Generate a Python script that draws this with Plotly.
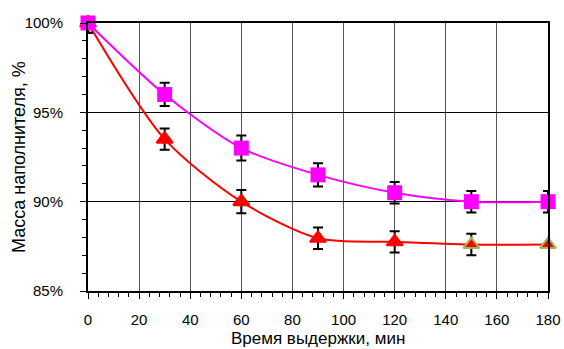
import plotly.graph_objects as go

time_min = [0, 30, 60, 90, 120, 150, 180]
mass_magenta = [100, 96.0, 93.0, 91.5, 90.5, 90.0, 90.0]
err_magenta_up = [0.0, 0.65, 0.7, 0.65, 0.6, 0.6, 0.6]
err_magenta_down = [0.55, 0.65, 0.7, 0.65, 0.6, 0.6, 0.6]
mass_red = [100, 93.5, 90.0, 87.95, 87.75, 87.6, 87.6]
err_red_up = [0.0, 0.6, 0.65, 0.6, 0.6, 0.6, 0.0]
err_red_down = [0.55, 0.6, 0.65, 0.6, 0.6, 0.6, 0.0]
red_outline = ["red", "red", "red", "red", "red", "#9BBB59", "#9BBB59"]

x_ticks = list(range(0, 181, 20))
y_ticks = [85, 90, 95, 100]
y_labels = ["85%", "90%", "95%", "100%"]

fig = go.Figure()

fig.add_trace(go.Scatter(
    x=time_min, y=mass_red, mode="lines+markers",
    line=dict(color="#FF0000", width=2, shape="spline", smoothing=0.8),
    marker=dict(symbol="triangle-up", size=14, color="#FF0000",
                line=dict(color=red_outline, width=2)),
    error_y=dict(type="data", array=err_red_up, arrayminus=err_red_down,
                 color="black", thickness=2, width=5),
    cliponaxis=False, showlegend=False))

fig.add_trace(go.Scatter(
    x=time_min, y=mass_magenta, mode="lines+markers",
    line=dict(color="#FF00FF", width=2, shape="spline", smoothing=0.8),
    marker=dict(symbol="square", size=15, color="#FF00FF"),
    error_y=dict(type="data", array=err_magenta_up, arrayminus=err_magenta_down,
                 color="black", thickness=2, width=5),
    cliponaxis=False, showlegend=False))

font_family = "Liberation Sans, Arial, sans-serif"

fig.update_layout(
    width=564, height=349,
    margin=dict(l=88, r=16, t=23, b=58),
    paper_bgcolor="white", plot_bgcolor="white",
    font=dict(family=font_family, size=15, color="black"),
)

fig.add_annotation(
    text="Масса наполнителя, %", textangle=-90,
    xref="paper", yref="paper", x=-(88 - 19) / 460, y=0.5,
    xanchor="center", yanchor="middle", showarrow=False,
    font=dict(size=18),
)
fig.add_annotation(
    text="Время выдержки, мин",
    xref="paper", yref="paper", x=0.5, y=-(349 - 291) / 268,
    xanchor="center", yanchor="bottom", showarrow=False, borderpad=0,
    font=dict(size=17),
)

fig.update_xaxes(
    range=[0, 180], tickvals=x_ticks, ticks="outside", ticklen=6, tickwidth=1,
    tickcolor="black", ticklabelstandoff=8, automargin=False,
    minor=dict(dtick=4, ticks="outside", ticklen=4, tickcolor="black", showgrid=False),
    showgrid=True, gridcolor="#555555", gridwidth=1,
    showline=True, linecolor="black", linewidth=2, mirror=True,
    zeroline=False,
    tickfont=dict(size=15),
)

fig.update_yaxes(
    range=[85, 100], tickvals=y_ticks, ticktext=y_labels, ticks="outside", ticklen=6,
    tickwidth=1, tickcolor="black", ticklabelstandoff=14, automargin=False,
    minor=dict(dtick=1, ticks="outside", ticklen=4, tickcolor="black", showgrid=False),
    showgrid=True, gridcolor="black", gridwidth=1,
    showline=True, linecolor="black", linewidth=2, mirror=True,
    zeroline=False,
    tickfont=dict(size=15),
)

fig.write_html("out.html")
